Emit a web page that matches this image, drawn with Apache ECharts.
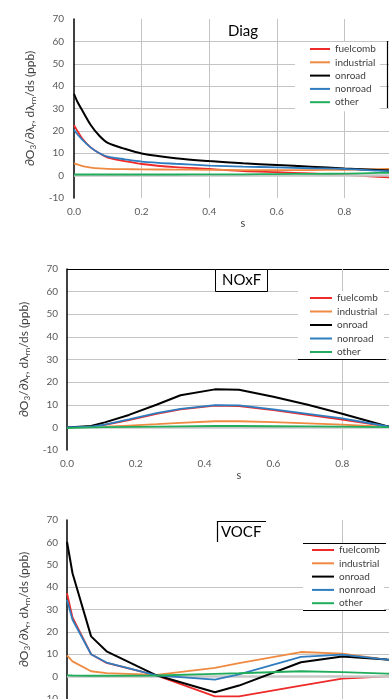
<!DOCTYPE html>
<html>
<head>
<meta charset="utf-8">
<script src="https://cdn.jsdelivr.net/npm/echarts@6/dist/echarts.min.js"></script>
<style>
  html, body { margin: 0; padding: 0; background: #fff; }
  #main { width: 389px; height: 699px; }
</style>
</head>
<body>
<div id="main"></div>
<script>
// source names and colours
const sources = ['fuelcomb', 'industrial', 'onroad', 'nonroad', 'other'];
const colors = ['#ee2a2a', '#ef8a42', '#000000', '#2f7cbf', '#22ad5c'];

// panel 1 - Diag
const diagS = [0, 0.01, 0.025, 0.05, 0.075, 0.1, 0.15, 0.2, 0.3, 0.4, 0.5, 0.6, 0.7, 0.8, 0.9, 1.0];
const diagFuelcomb = [22.5, 20, 16.5, 12.5, 10, 8, 6.5, 5.2, 3.8, 3, 2, 1.5, 1, 0.3, -0.5, -1.2];
const diagIndustrial = [5.5, 5, 4.3, 3.6, 3.2, 3, 2.9, 2.8, 2.7, 2.6, 2.5, 2.5, 2.5, 2.6, 2.9, 3.1];
const diagOnroad = [36.5, 33, 29, 22.5, 17.8, 14.6, 12, 9.9, 7.8, 6.5, 5.5, 4.8, 4, 3.2, 2.5, 1.8];
const diagNonroad = [20.5, 18.5, 16, 12.5, 10, 8.5, 7.3, 6.3, 5.3, 4.5, 4, 3.7, 3.3, 3, 2.2, 1.8];
const diagOther = [0.5, 0.5, 0.5, 0.5, 0.5, 0.5, 0.5, 0.5, 0.5, 0.6, 0.6, 0.7, 0.8, 0.9, 1.2, 1.5];

// panel 2 - NOxF
const noxS = [0, 0.07, 0.11, 0.18, 0.26, 0.33, 0.43, 0.5, 0.6, 0.7, 0.8, 0.93, 1.0];
const noxFuelcomb = [0, 0.3, 1.1, 3.2, 6, 8, 9.6, 9.4, 7.6, 5.5, 3.4, 0.4, 0];
const noxIndustrial = [0, 0.1, 0.3, 0.8, 1.4, 2, 2.7, 2.7, 2.3, 1.8, 1.2, 0.2, 0];
const noxOnroad = [0, 0.6, 2.2, 5.5, 10, 14.2, 16.8, 16.6, 13.5, 10, 6, 0.5, 0];
const noxNonroad = [0, 0.3, 1.2, 3.5, 6.3, 8.2, 9.8, 9.7, 8, 6, 4, 0.5, 0];
const noxOther = [-0.3, 0, 0.1, 0.2, 0.3, 0.4, 0.6, 0.6, 0.5, 0.4, 0.3, 0.1, 0];

// panel 3 - VOCF
const vocS = [0, 0.016, 0.07, 0.115, 0.26, 0.43, 0.5, 0.68, 0.8, 0.93, 1.0];
const vocFuelcomb = [37.3, 26.5, 10, 6.1, 0.6, -8.8, -8.8, -4, -0.9, 0.1, 0.5];
const vocIndustrial = [9.5, 6.8, 2.4, 1.6, 0.8, 3.9, 6, 11, 10.3, 7.6, 6.5];
const vocOnroad = [60.3, 46.2, 18, 11.3, 0.6, -7, -4, 6.4, 9, 7.6, 7];
const vocNonroad = [34.3, 25.4, 10, 6.3, 0.6, -1.3, 1, 8.8, 9.8, 7.6, 7];
const vocOther = [0.6, 0.5, 0.4, 0.4, 0.5, 1.2, 1.5, 2.4, 2, 1.3, 1.2];

const panelTitles = ['Diag', 'NOxF', 'VOCF'];

const panels = [
  { s: diagS, values: [diagFuelcomb, diagIndustrial, diagOnroad, diagNonroad, diagOther] },
  { s: noxS, values: [noxFuelcomb, noxIndustrial, noxOnroad, noxNonroad, noxOther] },
  { s: vocS, values: [vocFuelcomb, vocIndustrial, vocOnroad, vocNonroad, vocOther] }
];

const FONT = 'Lato, "DejaVu Sans", sans-serif';
const GRAY = '#c4c4c4';
const NONE = 'rgba(0,0,0,0)';

// plot areas run past the right edge, as in the cropped original
const grids = [
  { left: 74, top: 19, width: 338, height: 179, outerBoundsMode: 'none', containLabel: false },
  { left: 67, top: 269, width: 344, height: 181, outerBoundsMode: 'none', containLabel: false },
  { left: 67, top: 520, width: 344, height: 179, outerBoundsMode: 'none', containLabel: false }
];

// which gridlines are visible (from -10 up to 70, and 0.0 to 1.0)
const hLines = [
  [NONE, GRAY, GRAY, GRAY, GRAY, GRAY, GRAY, GRAY, NONE],
  [NONE, GRAY, GRAY, GRAY, GRAY, GRAY, GRAY, GRAY, '#000'],
  [NONE, GRAY, GRAY, GRAY, GRAY, GRAY, NONE, NONE, NONE]
];
const vLines = [
  [NONE, GRAY, GRAY, GRAY, GRAY, NONE],
  [NONE, NONE, NONE, NONE, GRAY, NONE],
  [NONE, NONE, NONE, NONE, GRAY, NONE]
];

const yName = '∂O{sub|3}/∂λ{sub|r}, dλ{sub|rn}/ds (ppb)';

const xAxes = grids.map((g, i) => ({
  type: 'value', gridIndex: i, min: 0, max: 1, interval: 0.2,
  name: 's', nameLocation: 'middle', nameGap: 18,
  nameTextStyle: { fontSize: 11, color: '#404040', fontFamily: FONT },
  axisLine: { show: false }, axisTick: { show: false },
  axisLabel: { fontSize: 10, color: '#595959', fontFamily: FONT, margin: 9,
    formatter: v => v.toFixed(1) },
  splitLine: { show: true, lineStyle: { color: vLines[i], width: 1 } }
}));

const yAxes = grids.map((g, i) => ({
  type: 'value', gridIndex: i, min: -10, max: 70, interval: 10,
  name: yName, nameLocation: 'middle', nameRotate: 90, nameGap: i === 0 ? 31 : 28,
  nameTextStyle: { fontSize: 12, color: '#404040', fontFamily: FONT, lineHeight: 15,
    rich: { sub: { fontSize: 8, lineHeight: 10, verticalAlign: 'bottom', color: '#404040', fontFamily: FONT } } },
  axisLine: { show: true, lineStyle: { color: '#000', width: 1.5 } },
  axisTick: { show: false },
  axisLabel: { fontSize: 10, color: '#595959', fontFamily: FONT, margin: i === 0 ? 10 : 9 },
  splitLine: { show: true, lineStyle: { color: hLines[i], width: 1 } }
}));

const series = [];
panels.forEach((p, pi) => {
  p.values.forEach((vals, si) => {
    const item = {
      name: sources[si], type: 'line', xAxisIndex: pi, yAxisIndex: pi,
      data: p.s.map((x, k) => [x, vals[k]]),
      symbol: 'none', smooth: pi === 0 ? 0.3 : false,
      lineStyle: { color: colors[si], width: si === 2 ? 2 : 1.8 },
      itemStyle: { color: colors[si] },
      z: 3 + si
    };
    if (si === 0) {
      item.markLine = {
        silent: true, symbol: 'none', label: { show: false },
        lineStyle: { color: '#c8c8c8', width: 2.5, type: 'solid' },
        data: [{ yAxis: 0 }]
      };
    }
    series.push(item);
  });
});

const legendBase = {
  orient: 'vertical', data: sources, icon: 'rect', itemHeight: 2,
  backgroundColor: '#fff', selectedMode: false,
  textStyle: { fontSize: 10, color: '#404040', fontFamily: FONT, lineHeight: 12 }
};

const legends = [
  Object.assign({}, legendBase, { left: 295, top: 42, padding: [1, 4, 3, 15], itemWidth: 20, itemGap: 1.3 }),
  Object.assign({}, legendBase, { left: 298, top: 291, padding: [1, 6, 1, 12], itemWidth: 22, itemGap: 1.5 }),
  Object.assign({}, legendBase, { left: 303, top: 544, padding: [0, 4, 1, 9], itemWidth: 22, itemGap: 1.3 })
];

const titles = [
  { text: panelTitles[0], left: 228, top: 24, padding: 0,
    textStyle: { fontSize: 15, fontWeight: 'normal', color: '#000', fontFamily: FONT } },
  { text: panelTitles[1], left: 215, top: 269, padding: [3, 7, 3, 7],
    borderColor: '#000', borderWidth: 1, backgroundColor: '#fff',
    textStyle: { fontSize: 15, fontWeight: 'normal', color: '#000', fontFamily: FONT, lineHeight: 17 } },
  { text: panelTitles[2], left: 221, top: 524, padding: 0,
    textStyle: { fontSize: 15, fontWeight: 'normal', color: '#000', fontFamily: FONT, lineHeight: 17 } }
];

const blackLine = { stroke: '#000', lineWidth: 1.2 };
const graphic = [
  { type: 'line', shape: { x1: 387.5, y1: 41, x2: 387.5, y2: 108 }, style: blackLine, z: 10 },
  { type: 'line', shape: { x1: 298, y1: 359.5, x2: 386, y2: 359.5 }, style: blackLine, z: 10 },
  { type: 'line', shape: { x1: 303, y1: 543.5, x2: 386, y2: 543.5 }, style: blackLine, z: 10 },
  { type: 'line', shape: { x1: 303, y1: 610.5, x2: 386, y2: 610.5 }, style: blackLine, z: 10 },
  { type: 'polyline', shape: { points: [[217.5, 542], [217.5, 521.5], [266, 521.5]] }, style: { stroke: '#000', lineWidth: 1.2, fill: null }, z: 10 }
];

const chart = echarts.init(document.getElementById('main'));
chart.setOption({
  animation: false,
  backgroundColor: '#fff',
  title: titles,
  legend: legends,
  grid: grids,
  xAxis: xAxes,
  yAxis: yAxes,
  series: series,
  graphic: graphic
});
</script>
</body>
</html>
